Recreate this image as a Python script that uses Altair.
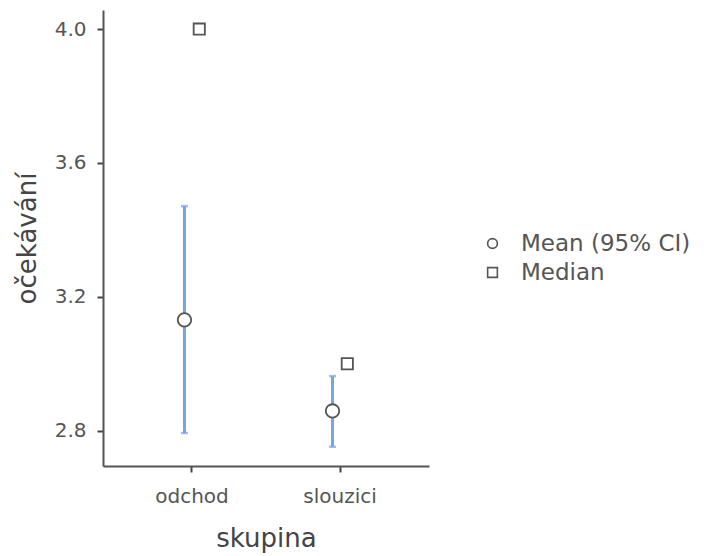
import altair as alt
import pandas as pd

groups = ["odchod", "slouzici"]
means = [3.131, 2.859]
ci_low = [2.793, 2.752]
ci_high = [3.471, 2.963]
medians = [4.0, 3.0]
stats = ["Mean (95% CI)", "Median"]
y_ticks = [2.8, 3.2, 3.6, 4.0]

mean_df = pd.DataFrame({"skupina": groups, "stat": [stats[0]] * 2, "value": means})
med_df = pd.DataFrame({"skupina": groups, "stat": [stats[1]] * 2, "value": medians})
ci = pd.DataFrame({"skupina": groups, "stat": [stats[0]] * 2, "lo": ci_low, "hi": ci_high})

FONT = "DejaVu Sans"
x_enc = alt.X(
    "skupina:N",
    sort=groups,
    scale=alt.Scale(paddingInner=0, paddingOuter=0.101),
    axis=alt.Axis(
        title="skupina", labelAngle=0, labelFontSize=20, labelColor="#555555",
        titleFontSize=26, titleColor="#444444", titleFontWeight="normal",
        labelPadding=14, titlePadding=19, tickSize=6, tickWidth=2, tickColor="#444444",
        domainColor="#555555", domainWidth=2, labelFont=FONT, titleFont=FONT,
    ),
)
xoff = alt.XOffset("stat:N", scale=alt.Scale(domain=stats, range=[59.1, 88.7]))
y_scale = alt.Scale(domain=[2.6945, 4.057], nice=False, zero=False)
y_axis = alt.Axis(
    title="očekávání", values=y_ticks, format=".1f", labelFontSize=20,
    labelColor="#555555", titleFontSize=26, titleColor="#444444", titleFontWeight="normal",
    labelPadding=11, titlePadding=14, tickSize=6, tickWidth=2, tickColor="#444444",
    domainColor="#555555", domainWidth=2, grid=False, labelFont=FONT, titleFont=FONT,
)

rule = alt.Chart(ci).mark_rule(color="#78a4e6", strokeWidth=3).encode(
    x=x_enc, xOffset=xoff,
    y=alt.Y("lo:Q", scale=y_scale, axis=y_axis),
    y2="hi:Q",
)
cap_lo = alt.Chart(ci).mark_tick(color="#78a4e6", size=7, thickness=2.5, orient="horizontal").encode(
    x=x_enc, xOffset=xoff, y=alt.Y("lo:Q", scale=y_scale, axis=y_axis)
)
cap_hi = alt.Chart(ci).mark_tick(color="#78a4e6", size=7, thickness=2.5, orient="horizontal").encode(
    x=x_enc, xOffset=xoff, y=alt.Y("hi:Q", scale=y_scale, axis=y_axis)
)

leg = alt.Legend(
    title=None, orient="none", legendX=378, legendY=222,
    labelFontSize=23, labelColor="#555555", labelFont=FONT, labelLimit=400,
    symbolSize=95, symbolStrokeWidth=1.6, symbolFillColor="white",
    labelOffset=17, rowPadding=5, padding=0,
)
shape_enc = alt.Shape("stat:N", scale=alt.Scale(domain=stats, range=["circle", "square"]), legend=leg)
color_enc = alt.Color("stat:N", scale=alt.Scale(domain=stats, range=["#555555", "#555555"]), legend=leg)

mean_pts = alt.Chart(mean_df).mark_point(
    filled=False, fill="white", strokeWidth=1.8, opacity=1, size=180
).encode(
    x=x_enc, xOffset=xoff,
    y=alt.Y("value:Q", scale=y_scale, axis=y_axis),
    shape=shape_enc, color=color_enc,
)
med_pts = alt.Chart(med_df).mark_point(
    filled=False, fill="white", strokeWidth=1.8, opacity=1, size=125
).encode(
    x=x_enc, xOffset=xoff,
    y=alt.Y("value:Q", scale=y_scale, axis=y_axis),
    shape=shape_enc, color=color_enc,
)

chart = (
    alt.layer(rule, cap_lo, cap_hi, mean_pts, med_pts)
    .properties(
        width=326, height=456,
        autosize=alt.AutoSizeParams(type="none"),
        padding={"left": 103, "top": 10, "right": 296, "bottom": 90},
        background="white",
    )
    .configure_view(stroke=None)
)

chart.save("out.html", embed_options={"renderer": "svg", "actions": False})
